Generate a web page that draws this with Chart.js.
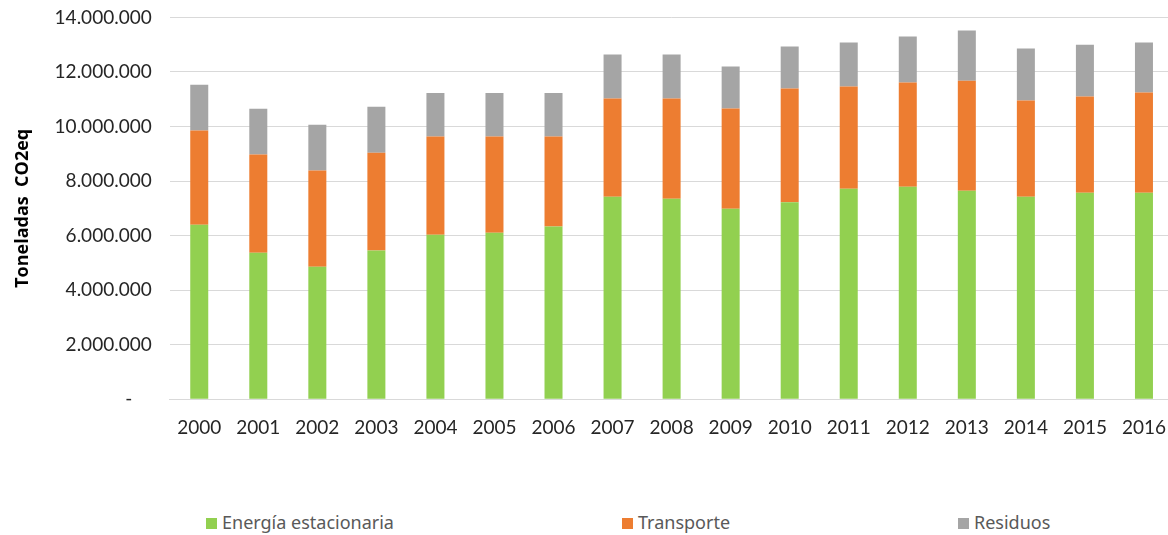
<!DOCTYPE html>
<html>
<head>
<meta charset="utf-8">
<script src="https://cdn.jsdelivr.net/npm/chart.js@4"></script>
<style>
  body { margin: 0; overflow: hidden; background: #fff; }
  #wrap { position: absolute; left: 0; top: -12px; width: 1183px; height: 468px; }
  #legend {
    position: absolute; left: 0; top: 510px; width: 1168px; height: 26px;
    font-family: "Noto Sans", sans-serif; font-size: 18px; color: #595959;
  }
  #legend span.item { position: absolute; top: 0; white-space: nowrap; }
  #legend span.box { display: inline-block; width: 11px; height: 11px; margin-right: 5px; vertical-align: 0px; }
</style>
</head>
<body>
<div id="wrap"><canvas id="co2Chart"></canvas></div>
<div id="legend"></div>
<script>
const years = ["2000", "2001", "2002", "2003", "2004", "2005", "2006", "2007", "2008",
               "2009", "2010", "2011", "2012", "2013", "2014", "2015", "2016"];

const energiaEstacionaria = [6400000, 5370000, 4860000, 5450000, 6030000, 6100000, 6330000, 7420000, 7350000,
                             6980000, 7220000, 7720000, 7790000, 7640000, 7420000, 7570000, 7570000];
const transporte = [3450000, 3600000, 3530000, 3590000, 3600000, 3530000, 3300000, 3610000, 3680000,
                    3680000, 4170000, 3750000, 3820000, 4040000, 3530000, 3530000, 3680000];
const residuos = [1680000, 1680000, 1670000, 1680000, 1600000, 1600000, 1600000, 1610000, 1610000,
                  1540000, 1540000, 1610000, 1690000, 1840000, 1910000, 1900000, 1830000];

const yTicks = [0, 2000000, 4000000, 6000000, 8000000, 10000000, 12000000, 14000000];

const seriesNames = ["Energía estacionaria", "Transporte", "Residuos"];
const seriesColors = ["#92D050", "#ED7D31", "#A5A5A5"];

// 14000000 -> "14.000.000", 0 -> "-"
function formatTons(v) {
    if (v === 0) return "-    ";
    return String(v).replace(/\B(?=(\d{3})+(?!\d))/g, ".");
}

const datasets = [energiaEstacionaria, transporte, residuos].map((values, i) => ({
    label: seriesNames[i],
    data: values,
    backgroundColor: seriesColors[i],
    borderWidth: 0,
    barPercentage: 0.305,
    categoryPercentage: 1.0
}));

const chart = new Chart(document.getElementById("co2Chart").getContext("2d"), {
    type: "bar",
    data: { labels: years, datasets: datasets },
    options: {
        responsive: true,
        maintainAspectRatio: false,
        animation: false,
        layout: { padding: { top: 0, left: 12, right: 0, bottom: 0 } },
        plugins: {
            legend: { display: false },
            tooltip: { enabled: false }
        },
        scales: {
            x: {
                stacked: true,
                grid: { display: false, drawTicks: false },
                border: { color: "#D9D9D9", width: 1 },
                ticks: {
                    color: "#262626",
                    padding: 17,
                    maxRotation: 0,
                    autoSkip: false,
                    font: { family: "Lato", size: 19 }
                }
            },
            y: {
                stacked: true,
                min: 0,
                max: 14000000,
                afterBuildTicks: function(scale) {
                    scale.ticks = yTicks.map(v => ({ value: v }));
                },
                grid: { color: "#D9D9D9", lineWidth: 1, drawTicks: false },
                border: { display: false },
                ticks: {
                    color: "#262626",
                    padding: 18,
                    font: { family: "Lato", size: 19 },
                    callback: function(value) { return formatTons(value); }
                },
                title: {
                    display: true,
                    text: "Toneladas  CO2eq",
                    color: "#000",
                    padding: { top: 0, bottom: 3 },
                    font: { family: "Open Sans", size: 18, weight: "bold" }
                }
            }
        }
    }
});

// legend below the chart, built from the series arrays
const legendPositions = [206, 622, 958];
const legend = document.getElementById("legend");
seriesNames.forEach(function(name, i) {
    const item = document.createElement("span");
    item.className = "item";
    item.style.left = legendPositions[i] + "px";
    const box = document.createElement("span");
    box.className = "box";
    box.style.background = seriesColors[i];
    item.appendChild(box);
    item.appendChild(document.createTextNode(name));
    legend.appendChild(item);
});
</script>
</body>
</html>
